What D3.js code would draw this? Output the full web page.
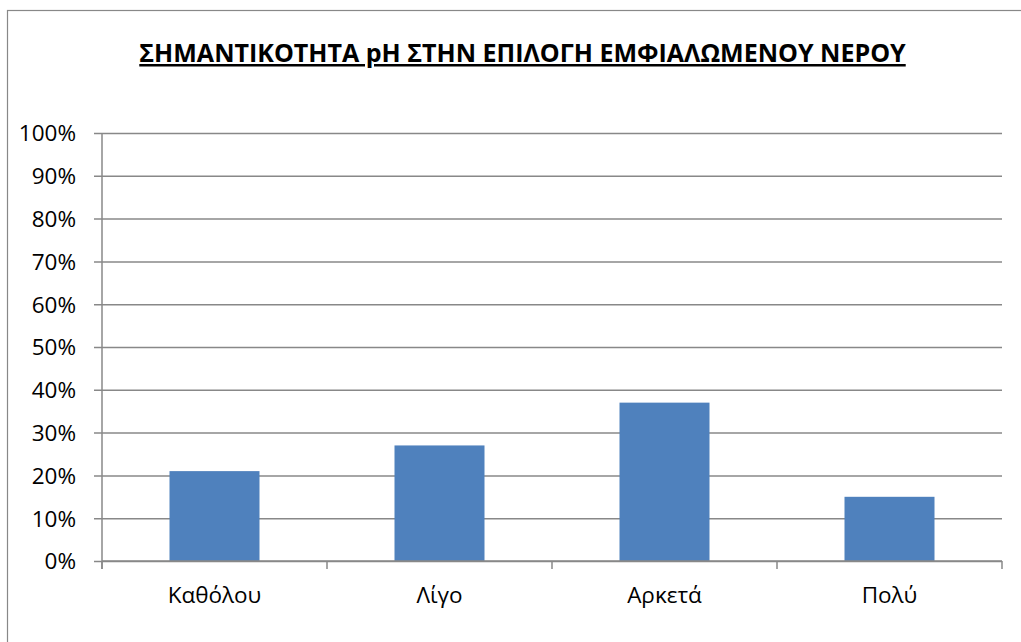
<!DOCTYPE html>
<html><head><meta charset="utf-8">
<script src="https://cdn.jsdelivr.net/npm/d3@7"></script>
<style>html,body{margin:0;padding:0;background:#fff;overflow:hidden}</style>
</head><body>
<svg id="c" width="1021" height="642"></svg>
<script>
const title = "ΣΗΜΑΝΤΙΚΟΤΗΤΑ pH ΣΤΗΝ ΕΠΙΛΟΓΗ ΕΜΦΙΑΛΩΜΕΝΟΥ ΝΕΡΟΥ";
const categories = ["Καθόλου", "Λίγο", "Αρκετά", "Πολύ"];
const values = [0.21, 0.27, 0.37, 0.15];
const yTicks = [0, 0.1, 0.2, 0.3, 0.4, 0.5, 0.6, 0.7, 0.8, 0.9, 1.0];

(function () {
const svg = d3.select("#c");
const font = "'Open Sans', 'Noto Sans', sans-serif";
const grey = "#888888";

// outer frame
svg.append("rect").attr("x", 7.5).attr("y", 10.5).attr("width", 1100).attr("height", 700)
  .attr("fill", "#fff").attr("stroke", grey).attr("stroke-width", 1.2);

const pL = 102, pR = 1002, pT = 133, pB = 561;
const x = d3.scaleBand().domain(categories).range([pL, pR]).paddingInner(0.6).paddingOuter(0.3);
const xb = d3.scaleBand().domain(categories).range([pL, pR]);
const y = d3.scaleLinear().domain([0, 1]).range([pB, pT]);

// gridlines + y axis
const yAxis = d3.axisLeft(y).tickValues(yTicks).tickFormat(d3.format(".0%"))
  .tickSize(-(pR - pL)).tickPadding(18);
const gy = svg.append("g").attr("transform", `translate(${pL},0)`).call(yAxis);
gy.select(".domain").remove();
gy.selectAll(".tick line").attr("stroke", grey).attr("stroke-width", 1.5).attr("x1", -8);
gy.selectAll(".tick text").attr("font-family", font).attr("font-size", 22.5).attr("fill", "#000")
  .attr("x", -26).attr("dy", "0.35em");
svg.append("line").attr("x1", pL).attr("x2", pL).attr("y1", pT).attr("y2", pB + 8)
  .attr("stroke", grey).attr("stroke-width", 1.5);

// bars
svg.selectAll("rect.bar").data(values).join("rect").attr("class", "bar")
  .attr("x", (d, i) => x(categories[i]))
  .attr("width", x.bandwidth())
  .attr("y", d => y(d))
  .attr("height", d => y(0) - y(d))
  .attr("fill", "#4f81bd");

// x axis
svg.append("line").attr("x1", pL).attr("x2", pR).attr("y1", pB).attr("y2", pB)
  .attr("stroke", grey).attr("stroke-width", 1.5);
const bounds = categories.map(c => xb(c)).concat([pR]);
svg.selectAll("line.xt").data(bounds).join("line").attr("class", "xt")
  .attr("x1", d => d).attr("x2", d => d).attr("y1", pB).attr("y2", pB + 8)
  .attr("stroke", grey).attr("stroke-width", 1.5);
svg.selectAll("text.xl").data(categories).join("text").attr("class", "xl")
  .attr("x", d => xb(d) + xb.bandwidth() / 2).attr("y", 603)
  .attr("text-anchor", "middle").attr("font-family", font).attr("font-size", 22.5)
  .attr("fill", "#000").text(d => d);

// title
const t = svg.append("text").attr("x", 522.5).attr("y", 62).attr("text-anchor", "middle")
  .attr("font-family", font).attr("font-weight", "bold").attr("font-size", 22)
  .attr("text-decoration", "underline").attr("fill", "#000").text(title);
const w = t.node().getComputedTextLength();
t.attr("font-size", 22 * 767 / w);
})();
</script>
</body></html>
